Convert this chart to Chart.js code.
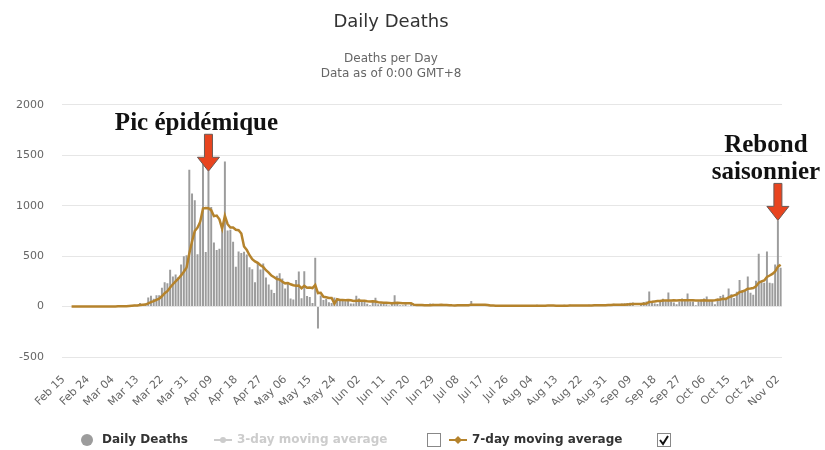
<!DOCTYPE html>
<html lang="en">
<head>
<meta charset="UTF-8">
<title>Daily Deaths</title>
<script src="https://cdn.jsdelivr.net/npm/chart.js"></script>
<style>
  body { margin: 0; background: #fff; }
  canvas { display: block; }
</style>
</head>
<body>
<canvas id="myChart" width="825" height="450"></canvas>
<script>
// one value per day, first day Feb 15
const dailyDeaths = [
  0, 0, 0, 0, 0, 0, 0, 0, 0, 0,
  1, 0, 0, 0, 0, 1, 1, 0, 2, 2,
  7, 3, 6, 8, 15, 13, 18, 12, 36, 21,
  27, 89, 108, 78, 112, 112, 186, 240, 231, 365,
  299, 319, 292, 418, 499, 509, 1355, 1120, 1053, 518,
  833, 1417, 541, 1341, 987, 635, 561, 574, 762, 1438,
  753, 761, 642, 395, 547, 531, 544, 516, 389, 369,
  242, 437, 367, 427, 289, 218, 166, 135, 306, 330,
  278, 178, 243, 80, 70, 263, 348, 83, 351, 104,
  96, 35, 483, -217, 110, 66, 74, 43, 35, 90,
  83, 65, 66, 52, 57, 31, 31, 107, 81, 44,
  46, 27, 13, 54, 87, 23, 27, 28, 24, 10,
  29, 111, 28, 14, 14, 24, 8, 23, 20, 8,
  14, 7, 7, 8, 30, 29, 18, 13, 16, 0,
  0, 25, 14, 10, 16, 25, 0, 0, 25, 55,
  12, 18, 14, 0, 0, 14, 14, 9, 13, 10,
  0, 0, 14, 11, 9, 10, 14, 0, 0, 12,
  12, 9, 12, 17, 0, 0, 15, 14, 11, 12,
  12, 0, 0, 17, 12, 18, 13, 14, 0, 0,
  15, 14, 17, 16, 20, 0, 0, 26, 20, 21,
  25, 27, 0, 0, 30, 32, 35, 37, 40, 0,
  0, 32, 46, 50, 150, 48, 30, 26, 45, 78,
  52, 140, 50, 40, 24, 50, 80, 60, 130, 49,
  49, 12, 50, 71, 80, 100, 58, 54, 24, 80,
  104, 117, 88, 178, 122, 85, 146, 263, 163, 165,
  298, 137, 116, 257, 523, 244, 235, 545, 236, 231,
  418, 854, 385
];

const movingAvg7 = [
  null, null, null, 0, 0, 0, 0, 0, 0, 0,
  0, 0, 0, 0, 0, 0, 0, 0, 1, 1,
  2, 2, 3, 4, 6, 8, 10, 11, 15, 18,
  20, 31, 44, 53, 67, 78, 102, 132, 152, 189,
  221, 250, 276, 309, 346, 386, 527, 645, 749, 782,
  841, 972, 977, 975, 956, 896, 902, 865, 772, 900,
  816, 783, 784, 761, 757, 724, 596, 562, 509, 470,
  448, 433, 409, 392, 360, 336, 307, 291, 273, 267,
  246, 230, 234, 221, 212, 206, 209, 181, 205, 186,
  188, 183, 214, 134, 137, 97, 92, 85, 85, 29,
  72, 65, 65, 62, 64, 63, 55, 58, 61, 58,
  57, 52, 50, 53, 50, 42, 40, 37, 37, 36,
  33, 36, 37, 35, 33, 33, 33, 32, 19, 16,
  16, 15, 12, 12, 13, 15, 16, 16, 17, 16,
  15, 14, 12, 11, 12, 13, 13, 13, 13, 19,
  19, 19, 18, 18, 18, 16, 10, 10, 9, 9,
  9, 9, 9, 8, 8, 8, 8, 8, 8, 8,
  8, 8, 8, 9, 9, 9, 9, 10, 10, 10,
  9, 9, 9, 9, 9, 10, 10, 11, 11, 11,
  10, 11, 10, 11, 12, 12, 12, 13, 14, 15,
  16, 17, 17, 17, 18, 19, 21, 23, 25, 25,
  25, 25, 27, 29, 45, 47, 51, 55, 56, 61,
  61, 60, 60, 62, 61, 62, 62, 63, 62, 62,
  63, 61, 61, 60, 63, 59, 60, 61, 62, 67,
  71, 77, 75, 92, 102, 111, 120, 143, 149, 160,
  177, 180, 184, 200, 237, 249, 259, 294, 308, 324,
  347, 395, 415
];

const monthNames = ['Jan', 'Feb', 'Mar', 'Apr', 'May', 'Jun', 'Jul', 'Aug', 'Sep', 'Oct', 'Nov', 'Dec'];
const labelStep = 9;

// category labels: one per day from Feb 15 2020
const dates = dailyDeaths.map((_, i) => {
  const d = new Date(Date.UTC(2020, 1, 15 + i));
  return monthNames[d.getUTCMonth()] + ' ' + String(d.getUTCDate()).padStart(2, '0');
});

const seriesNames = ['Daily Deaths', '3-day moving average', '7-day moving average'];

// annotated days and their captions
const noteIndex = [53, 261];
const noteText = [['Pic épidémique'], ['Rebond', 'saisonnier']];

const barColor = '#9c9c9c';
const lineColor = '#b5832c';

function drawArrow(ctx, x, tipY, len) {
  const shaftW = 8, headW = 22, headH = 14;
  ctx.beginPath();
  ctx.moveTo(x - shaftW / 2, tipY - len);
  ctx.lineTo(x + shaftW / 2, tipY - len);
  ctx.lineTo(x + shaftW / 2, tipY - headH);
  ctx.lineTo(x + headW / 2, tipY - headH);
  ctx.lineTo(x, tipY);
  ctx.lineTo(x - headW / 2, tipY - headH);
  ctx.lineTo(x - shaftW / 2, tipY - headH);
  ctx.closePath();
  ctx.fillStyle = '#e8441f';
  ctx.fill();
  ctx.strokeStyle = '#6b5a55';
  ctx.lineWidth = 1;
  ctx.stroke();
}

const notesPlugin = {
  id: 'notes',
  afterDatasetsDraw(chart) {
    const { ctx, scales: { x, y } } = chart;
    ctx.save();
    noteIndex.forEach((idx, n) => {
      const tipX = x.getPixelForValue(idx);
      const tipY = y.getPixelForValue(dailyDeaths[idx]);
      const len = 37;
      drawArrow(ctx, tipX, tipY, len);

      ctx.font = 'bold 25px "Liberation Serif", "DejaVu Serif", serif';
      ctx.fillStyle = '#111';
      ctx.textAlign = 'center';
      ctx.textBaseline = 'alphabetic';
      const lines = noteText[n];
      const lh = 27;
      lines.forEach((t, k) => {
        const w = ctx.measureText(t).width;
        let cx = tipX - 12;
        if (cx + w / 2 > chart.width - 4) cx = chart.width - 4 - w / 2;
        ctx.fillText(t, cx, tipY - len - 4 - (lines.length - 1 - k) * lh);
      });
    });
    ctx.restore();
  }
};

const legendPlugin = {
  id: 'customLegend',
  afterDraw(chart) {
    const ctx = chart.ctx;
    const cy = 440;
    ctx.save();
    ctx.textBaseline = 'middle';
    ctx.textAlign = 'left';
    ctx.font = 'bold 12px "DejaVu Sans", sans-serif';

    // Daily Deaths
    ctx.fillStyle = barColor;
    ctx.beginPath();
    ctx.arc(87, cy, 6, 0, Math.PI * 2);
    ctx.fill();
    ctx.fillStyle = '#333';
    ctx.fillText(seriesNames[0], 102, cy);

    // 3-day moving average (hidden series)
    ctx.strokeStyle = '#cccccc';
    ctx.lineWidth = 2;
    ctx.beginPath();
    ctx.moveTo(214, cy);
    ctx.lineTo(232, cy);
    ctx.stroke();
    ctx.fillStyle = '#cccccc';
    ctx.beginPath();
    ctx.arc(223, cy, 3, 0, Math.PI * 2);
    ctx.fill();
    ctx.fillText(seriesNames[1], 237, cy);

    // empty checkbox
    ctx.strokeStyle = '#888';
    ctx.lineWidth = 1;
    ctx.strokeRect(427.5, cy - 6.5, 13, 13);

    // 7-day moving average
    ctx.strokeStyle = lineColor;
    ctx.lineWidth = 2;
    ctx.beginPath();
    ctx.moveTo(449, cy);
    ctx.lineTo(467, cy);
    ctx.stroke();
    ctx.fillStyle = lineColor;
    ctx.beginPath();
    ctx.moveTo(458, cy - 4);
    ctx.lineTo(462, cy);
    ctx.lineTo(458, cy + 4);
    ctx.lineTo(454, cy);
    ctx.closePath();
    ctx.fill();
    ctx.fillStyle = '#333';
    ctx.fillText(seriesNames[2], 472, cy);

    // checked checkbox
    ctx.strokeStyle = '#888';
    ctx.lineWidth = 1;
    ctx.strokeRect(657.5, cy - 6.5, 13, 13);
    ctx.strokeStyle = '#111';
    ctx.lineWidth = 2;
    ctx.beginPath();
    ctx.moveTo(660, cy);
    ctx.lineTo(663, cy + 4);
    ctx.lineTo(668, cy - 4);
    ctx.stroke();
    ctx.restore();
  }
};

Chart.defaults.font.family = '"DejaVu Sans", sans-serif';

new Chart(document.getElementById('myChart'), {
  type: 'bar',
  data: {
    labels: dates,
    datasets: [{
      type: 'line',
      label: seriesNames[2],
      data: movingAvg7,
      borderColor: lineColor,
      borderWidth: 2.5,
      pointRadius: 0,
      tension: 0,
      fill: false,
      order: 0
    }, {
      type: 'bar',
      label: seriesNames[0],
      data: dailyDeaths,
      backgroundColor: barColor,
      barPercentage: 0.72,
      categoryPercentage: 1,
      order: 1
    }]
  },
  options: {
    responsive: false,
    animation: false,
    devicePixelRatio: 1,
    layout: { padding: { left: 0, right: 43, top: 0, bottom: 45 } },
    plugins: {
      legend: { display: false },
      tooltip: { enabled: false },
      title: {
        display: true,
        text: 'Daily Deaths',
        color: '#333',
        font: { size: 18, weight: 'normal' },
        padding: { top: 12, bottom: 14 }
      },
      subtitle: {
        display: true,
        text: ['Deaths per Day', 'Data as of 0:00 GMT+8'],
        color: '#666',
        font: { size: 12, weight: 'normal', lineHeight: 1.3 },
        padding: { top: 3, bottom: 23 }
      }
    },
    scales: {
      x: {
        grid: { display: false },
        border: { display: false },
        afterFit: (s) => { s.height = 48; },
        ticks: {
          autoSkip: false,
          minRotation: 45,
          maxRotation: 45,
          padding: 8,
          color: '#666',
          font: { size: 11 },
          callback: function (value, index) {
            return index % labelStep === 0 ? dates[index] : null;
          }
        }
      },
      y: {
        min: -500,
        max: 2000,
        border: { display: false },
        afterFit: (s) => { s.width = 62; },
        grid: { color: '#e6e6e6', drawTicks: false },
        ticks: {
          stepSize: 500,
          padding: 18,
          color: '#666',
          font: { size: 11 },
          callback: (value) => String(value)
        }
      }
    }
  },
  plugins: [notesPlugin, legendPlugin]
});
</script>
</body>
</html>
